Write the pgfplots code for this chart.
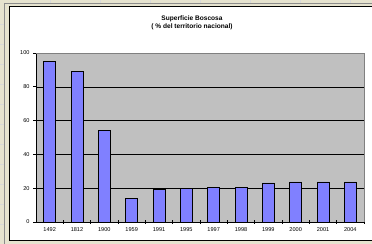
\documentclass[border=0pt]{standalone}
\usepackage{pgfplots}
\pgfplotsset{compat=1.18}
\usepackage{fontspec}
\setmainfont{Liberation Sans}
\definecolor{bgbeige}{HTML}{E6E3CF}
\definecolor{plotgray}{HTML}{C0C0C0}
\definecolor{barblue}{HTML}{8080FF}
\definecolor{framegray}{HTML}{808080}
\begin{document}
\begin{tikzpicture}[x=1bp,y=1bp]
\useasboundingbox (0,0) rectangle (372,244);
\fill[bgbeige] (0,0) rectangle (372,244);
\foreach \yy in {20,40,...,220} {\draw[black!15, line width=0.6bp] (0,\yy) -- (4,\yy);}
\foreach \xx in {50,100,...,350} {\draw[black!15, line width=0.6bp] (\xx,240.5) -- (\xx,244);}
\draw[black!45, line width=0.8bp] (4,-1) -- (4,240.5) -- (373,240.5);
\draw[black, fill=white, line width=1bp] (9.5,3.5) rectangle (374,237.5);
\node[font=\fontsize{6.6}{8}\selectfont\bfseries, align=center] at (192,232) [anchor=north] {Superficie Boscosa\\( \% del territorio nacional)};
\begin{axis}[
  at={(36bp,22bp)}, anchor=south west, scale only axis,
  width=328bp, height=169bp,
  xmin=-0.5, xmax=11.5, ymin=0, ymax=100,
  ybar, bar width=12bp,
  axis background/.style={fill=plotgray},
  axis x line*=bottom, axis y line*=left,
  axis line style={black, line width=0.8bp},
  ytick={0,20,...,100},
  ymajorgrids, grid style={black, line width=0.5bp},
  xtick={0,...,11},
  xticklabels={1492,1812,1900,1959,1991,1995,1997,1998,1999,2000,2001,2004},
  major x tick style={draw=none},
  minor xtick={0.5,1.5,...,10.5,11.5},
  minor tick length=3bp,
  minor x tick style={black, line width=0.6bp},
  major tick length=3bp,
  y tick style={black, line width=0.6bp},
  xtick align=center, ytick align=outside,
  ticklabel style={font=\fontsize{5.6}{6.5}\selectfont},
  /pgf/number format/assume math mode=true,
  xticklabel style={yshift=-1bp},
  clip=false,
]
\draw[framegray, line width=0.8bp] (axis cs:-0.5,100) -- (axis cs:11.5,100) -- (axis cs:11.5,0);
\addplot[fill=barblue, draw=black, line width=0.7bp] table[x=x,y=y] {
x y
0 95.1
1 89.3
2 54.0
3 13.8
4 19.3
5 19.7
6 20.7
7 20.7
8 23.1
9 23.7
10 23.7
11 23.7
};
\end{axis}
\end{tikzpicture}
\end{document}
